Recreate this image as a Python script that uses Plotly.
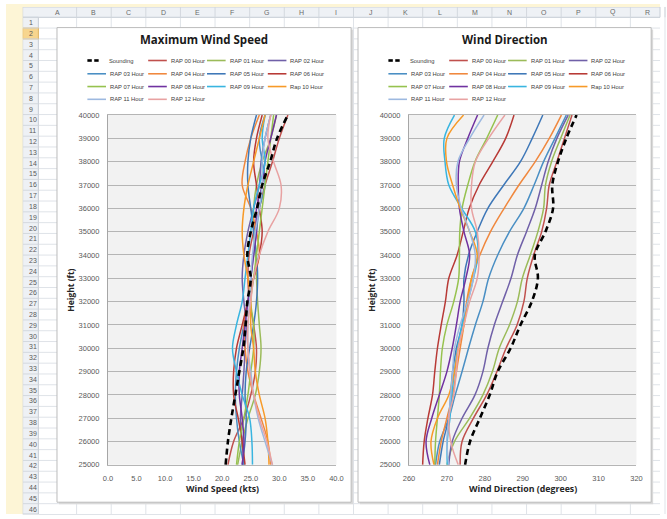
import plotly.graph_objects as go

W, H = 667, 519

heights = [25000, 26000, 27000, 28000, 29000, 30000, 31000, 32000,
           33000, 34000, 35000, 36000, 37000, 38000, 39000, 40000]

series_names = ["Sounding", "RAP 00 Hour", "RAP 01 Hour", "RAP 02 Hour",
                "RAP 03 Hour", "RAP 04 Hour", "RAP 05 Hour", "RAP 06 Hour",
                "RAP 07 Hour", "RAP 08 Hour", "RAP 09 Hour", "Rap 10 Hour",
                "RAP 11 Hour", "RAP 12 Hour"]

series_colors = ["#000000", "#C0504D", "#9BBB59", "#7060A8", "#4A8FC4",
                 "#F0883E", "#3F78B8", "#B83A36", "#96C24E", "#7032A0",
                 "#39B5E0", "#F79A28", "#9DB9E0", "#E8A2A2"]

# Wind speed (kts), one list per series, at the heights above
speed_sounding = [20.6, 21.0, 21.6, 22.3, 23.0, 23.7, 24.1, 24.4, 25.0, 24.4, 25.0, 26.1, 27.0, 28.4, 29.6, 31.5]
speed_rap00 = [21.0, 22.0, 23.8, 25.0, 25.8, 26.0, 25.5, 24.8, 24.5, 24.7, 25.5, 26.5, 27.5, 28.8, 30.0, 31.5]
speed_rap01 = [22.7, 23.5, 24.5, 25.8, 26.5, 26.8, 26.5, 26.2, 26.0, 25.8, 25.5, 25.5, 26.0, 27.0, 28.5, 29.5]
speed_rap02 = [23.8, 23.5, 23.2, 23.5, 23.8, 24.0, 24.2, 23.8, 23.5, 23.8, 24.5, 25.5, 26.5, 26.8, 27.5, 28.5]
speed_rap03 = [23.8, 23.0, 22.5, 22.3, 22.5, 23.0, 23.8, 24.5, 25.0, 25.5, 26.0, 26.5, 27.5, 27.0, 26.5, 27.5]
speed_rap04 = [28.5, 28.0, 26.8, 25.5, 24.5, 24.0, 23.8, 24.5, 25.5, 26.5, 26.0, 25.0, 23.5, 24.0, 25.0, 26.5]
speed_rap05 = [23.5, 24.0, 24.2, 24.0, 24.2, 24.8, 25.5, 26.0, 26.2, 26.0, 25.5, 25.0, 24.5, 24.5, 25.0, 26.0]
speed_rap06 = [24.0, 23.5, 22.8, 22.0, 22.0, 22.5, 23.5, 24.5, 25.5, 26.5, 27.0, 26.5, 26.0, 25.5, 26.0, 27.0]
speed_rap07 = [22.5, 23.0, 23.8, 24.5, 25.0, 25.5, 25.5, 25.0, 25.5, 26.0, 26.5, 27.0, 27.5, 28.0, 28.5, 29.0]
speed_rap08 = [23.5, 23.8, 23.5, 23.0, 23.0, 23.5, 24.0, 24.5, 25.0, 25.5, 26.0, 26.0, 27.0, 27.5, 28.5, 29.5]
speed_rap09 = [25.3, 25.2, 24.8, 23.5, 22.5, 21.8, 22.5, 23.5, 24.0, 24.5, 25.0, 25.5, 26.5, 27.5, 27.0, 27.5]
speed_rap10 = [28.2, 28.0, 27.5, 26.5, 25.8, 25.5, 25.0, 25.0, 24.5, 23.8, 23.5, 23.8, 24.5, 25.5, 26.5, 27.5]
speed_rap11 = [28.8, 27.5, 26.3, 25.5, 25.0, 24.5, 24.5, 24.8, 25.0, 25.3, 25.8, 26.5, 27.0, 27.0, 27.5, 28.5]
speed_rap12 = [28.8, 27.8, 26.5, 25.5, 24.8, 24.5, 24.5, 25.0, 25.5, 26.5, 28.0, 30.0, 30.3, 29.0, 28.0, 28.5]

# Wind direction (degrees)
dir_sounding = [274.8, 276.1, 278.7, 281.3, 283.4, 286.8, 289.4, 292.4, 294.0, 293.2, 296.0, 298.0, 297.8, 299.3, 301.5, 304.2]
dir_rap00 = [273.5, 274.0, 277.0, 280.5, 283.2, 285.6, 288.5, 290.3, 291.2, 292.9, 295.0, 296.3, 297.0, 299.0, 301.0, 303.0]
dir_rap01 = [270.0, 272.0, 276.0, 279.5, 282.0, 283.8, 286.5, 288.6, 289.9, 292.0, 294.0, 295.5, 296.0, 297.6, 300.0, 302.5]
dir_rap02 = [270.5, 271.4, 274.0, 277.4, 279.5, 280.8, 282.5, 284.7, 286.9, 288.6, 291.0, 293.3, 295.0, 296.7, 299.0, 302.0]
dir_rap03 = [267.0, 268.1, 270.5, 272.2, 274.0, 275.7, 277.5, 279.5, 281.0, 283.4, 286.5, 290.3, 293.0, 295.5, 298.5, 301.5]
dir_rap04 = [267.5, 268.5, 270.0, 271.5, 272.5, 273.5, 274.5, 275.2, 276.5, 278.7, 281.5, 285.1, 289.0, 293.3, 297.0, 300.2]
dir_rap05 = [268.0, 269.0, 270.5, 271.0, 271.5, 272.5, 274.0, 274.5, 274.5, 275.7, 278.0, 280.8, 285.0, 289.4, 292.5, 295.3]
dir_rap06 = [263.6, 264.0, 265.0, 266.2, 266.8, 267.5, 268.5, 269.6, 270.5, 272.7, 274.3, 275.9, 278.5, 282.1, 285.5, 287.7]
dir_rap07 = [266.8, 267.0, 267.5, 268.0, 268.3, 268.8, 270.0, 271.8, 273.1, 273.3, 273.4, 274.0, 275.5, 277.4, 280.5, 283.4]
dir_rap08 = [265.5, 264.5, 266.0, 268.0, 270.0, 271.4, 272.5, 273.5, 275.0, 276.0, 274.5, 273.3, 273.0, 273.3, 275.5, 278.1]
dir_rap09 = [270.1, 270.1, 270.8, 271.3, 272.0, 272.8, 274.0, 275.5, 277.0, 278.2, 277.5, 273.9, 270.5, 269.5, 269.3, 272.0]
dir_rap10 = [266.6, 265.8, 267.5, 270.5, 272.0, 273.0, 274.5, 275.5, 276.5, 278.0, 276.0, 273.5, 271.5, 269.9, 270.0, 274.4]
dir_rap11 = [270.5, 270.0, 270.5, 271.0, 271.5, 272.0, 273.5, 275.5, 277.0, 277.5, 276.0, 273.8, 272.5, 272.9, 276.0, 279.8]
dir_rap12 = [273.0, 271.0, 270.5, 271.8, 272.5, 273.0, 274.5, 276.0, 278.0, 278.5, 278.0, 276.5, 276.5, 277.5, 281.0, 285.3]

speed_series = [speed_sounding, speed_rap00, speed_rap01, speed_rap02, speed_rap03,
                speed_rap04, speed_rap05, speed_rap06, speed_rap07, speed_rap08,
                speed_rap09, speed_rap10, speed_rap11, speed_rap12]
dir_series = [dir_sounding, dir_rap00, dir_rap01, dir_rap02, dir_rap03,
              dir_rap04, dir_rap05, dir_rap06, dir_rap07, dir_rap08,
              dir_rap09, dir_rap10, dir_rap11, dir_rap12]

speed_ticks = [0, 5, 10, 15, 20, 25, 30, 35, 40]
dir_ticks = [260, 270, 280, 290, 300, 310, 320]
height_ticks = list(range(25000, 40001, 1000))

col_letters = list("ABCDEFGHIJKLMNOPQR")
n_rows = 46


def px(x):
    return x / W


def py(y):
    return 1 - y / H


fig = go.Figure()

# RAP series first, sounding drawn on top
for i in list(range(1, 14)) + [0]:
    is_snd = i == 0
    line = dict(color=series_colors[i], width=2.6 if is_snd else 1.5,
                shape="spline", smoothing=1.0)
    if is_snd:
        line["dash"] = "6px,4px"
    fig.add_trace(go.Scatter(x=speed_series[i], y=heights, mode="lines",
                             line=line, name=series_names[i], showlegend=False,
                             xaxis="x", yaxis="y"))
    fig.add_trace(go.Scatter(x=dir_series[i], y=heights, mode="lines",
                             line=line, name=series_names[i], showlegend=False,
                             xaxis="x2", yaxis="y2"))

shapes = []
annotations = []

# ---- spreadsheet backdrop ----
shapes.append(dict(type="rect", xref="paper", yref="paper", x0=0, x1=1, y0=0, y1=1,
                   fillcolor="#ffffff", line=dict(width=0), layer="below"))
row_top0 = 13.5
row_h = 11.0
col_edges = [33, 72] + [72 + 35.3 * k for k in range(1, 18)]
for k in range(n_rows + 1):
    yy = row_top0 + k * row_h
    shapes.append(dict(type="line", xref="paper", yref="paper", x0=px(33), x1=1,
                       y0=py(yy), y1=py(yy), line=dict(color="#dfe3e8", width=1),
                       layer="below"))
for xx in col_edges:
    shapes.append(dict(type="line", xref="paper", yref="paper", x0=px(xx), x1=px(xx),
                       y0=0, y1=py(3), line=dict(color="#dfe3e8", width=1), layer="below"))
shapes.append(dict(type="rect", xref="paper", yref="paper", x0=px(17), x1=1, y0=py(13.5), y1=py(3),
                   fillcolor="#eef1f5", line=dict(color="#c8ced6", width=1), layer="below"))
shapes.append(dict(type="rect", xref="paper", yref="paper", x0=px(17), x1=px(33), y0=0, y1=py(13.5),
                   fillcolor="#eef1f5", line=dict(color="#c8ced6", width=1), layer="below"))
shapes.append(dict(type="rect", xref="paper", yref="paper", x0=px(17), x1=px(33),
                   y0=py(row_top0 + 2 * row_h), y1=py(row_top0 + row_h),
                   fillcolor="#f7d58e", line=dict(color="#e2b662", width=1), layer="below"))
for k in range(1, n_rows):
    yy = row_top0 + k * row_h
    shapes.append(dict(type="line", xref="paper", yref="paper", x0=px(17), x1=px(33),
                       y0=py(yy), y1=py(yy), line=dict(color="#d3d8de", width=1), layer="below"))
for xx in col_edges[1:]:
    shapes.append(dict(type="line", xref="paper", yref="paper", x0=px(xx), x1=px(xx),
                       y0=py(13.5), y1=py(3), line=dict(color="#d3d8de", width=1), layer="below"))
shapes.append(dict(type="rect", xref="paper", yref="paper", x0=0, x1=px(17), y0=0, y1=1,
                   fillcolor="#fdf5d6", line=dict(width=0), layer="below"))
shapes.append(dict(type="rect", xref="paper", yref="paper", x0=0, x1=1, y0=py(3), y1=1,
                   fillcolor="#fdf5d6", line=dict(width=0), layer="below"))

for k, letter in enumerate(col_letters):
    cx = (col_edges[k] + col_edges[k + 1]) / 2
    annotations.append(dict(x=px(cx), y=py(8.3), xref="paper", yref="paper", text=letter,
                            showarrow=False, font=dict(size=7, color="#6b6b6b",
                                                       family="Liberation Sans"),
                            xanchor="center", yanchor="middle"))
for r in range(1, n_rows + 1):
    cy = row_top0 + (r - 0.5) * row_h
    annotations.append(dict(x=px(21), y=py(cy), xref="paper", yref="paper", text=str(r),
                            showarrow=False, font=dict(size=7, color="#5a5a5a",
                                                       family="Liberation Sans"),
                            xanchor="left", yanchor="middle"))

# ---- chart boxes ----
boxes = [(52, 352), (359, 658)]
plots = [(104, 337), (411, 643)]
box_top, box_bot = 24, 507
plot_top, plot_bot = 113, 469
for (bx0, bx1), (qx0, qx1) in zip(boxes, plots):
    shapes.append(dict(type="rect", xref="paper", yref="paper", x0=px(bx0 + 2), x1=px(bx1 + 2),
                       y0=py(box_bot + 2), y1=py(box_top + 2), fillcolor="#d9d9d9",
                       line=dict(width=0), layer="below"))
    shapes.append(dict(type="rect", xref="paper", yref="paper", x0=px(bx0), x1=px(bx1),
                       y0=py(box_bot), y1=py(box_top), fillcolor="#ffffff",
                       line=dict(color="#bcbcbc", width=1), layer="below"))
    shapes.append(dict(type="rect", xref="paper", yref="paper", x0=px(qx0), x1=px(qx1),
                       y0=py(plot_bot), y1=py(plot_top), fillcolor="#f2f2f2",
                       line=dict(width=0), layer="below"))

titles = ["Maximum Wind Speed", "Wind Direction"]
xtitles = ["Wind Speed (kts)", "Wind Direction (degrees)"]
for b, ((bx0, bx1), (qx0, qx1)) in enumerate(zip(boxes, plots)):
    annotations.append(dict(x=px((bx0 + bx1) / 2), y=py(36.5), xref="paper", yref="paper",
                            text="<b>" + titles[b] + "</b>", showarrow=False,
                            font=dict(size=11.5, color="#1a1a1a", family="Open Sans"),
                            xanchor="center", yanchor="middle"))
    annotations.append(dict(x=px((qx0 + qx1) / 2), y=py(494), xref="paper", yref="paper",
                            text="<b>" + xtitles[b] + "</b>", showarrow=False,
                            font=dict(size=8.8, color="#262626", family="Open Sans"),
                            xanchor="center", yanchor="middle"))
    annotations.append(dict(x=px(bx0 + 14), y=py(291), xref="paper", yref="paper",
                            text="<b>Height (ft)</b>", showarrow=False, textangle=-90,
                            font=dict(size=8.5, color="#262626", family="Open Sans"),
                            xanchor="center", yanchor="middle"))
    col_x = [31, 93, 153, 215]
    row_y = [57.5, 71, 84, 97]
    for i, name in enumerate(series_names):
        r, c = divmod(i, 4)
        lx = bx0 + col_x[c]
        ly = row_y[r]
        if i == 0:
            for d0 in (0, 7):
                shapes.append(dict(type="line", xref="paper", yref="paper",
                                   x0=px(lx + d0), x1=px(lx + d0 + 4.5), y0=py(ly), y1=py(ly),
                                   line=dict(color="#000000", width=2.6)))
            tx = lx + 20
        else:
            shapes.append(dict(type="line", xref="paper", yref="paper",
                               x0=px(lx), x1=px(lx + 19), y0=py(ly), y1=py(ly),
                               line=dict(color=series_colors[i], width=1.6)))
            tx = lx + 21
        annotations.append(dict(x=px(tx), y=py(ly), xref="paper", yref="paper", text=name,
                                showarrow=False, font=dict(size=5.8, color="#404040",
                                                           family="Liberation Sans"),
                                xanchor="left", yanchor="middle"))

axis_font = dict(size=7.5, color="#595959", family="Liberation Sans")
common_x = dict(showgrid=False, zeroline=False, showline=True, mirror=True,
                linecolor="#b5b5b5", linewidth=1.2, ticks="", tickfont=axis_font,
                ticklabelstandoff=6)
common_y = dict(showgrid=True, gridcolor="#b5b5b5", gridwidth=1.2, zeroline=False,
                showline=True, linecolor="#a6a6a6", linewidth=1, ticks="",
                tickfont=axis_font, range=[25000, 40000], tickvals=height_ticks,
                tickformat="d", ticklabelstandoff=6)

fig.update_layout(
    width=W, height=H, margin=dict(l=0, r=0, t=0, b=0),
    paper_bgcolor="white", plot_bgcolor="rgba(0,0,0,0)",
    showlegend=False,
    xaxis=dict(domain=[px(104), px(337)], range=[0, 40], tickvals=speed_ticks,
               tickformat=".1f", anchor="y", **common_x),
    yaxis=dict(domain=[py(plot_bot), py(plot_top)], anchor="x", **common_y),
    xaxis2=dict(domain=[px(411), px(643)], range=[260, 320], tickvals=dir_ticks,
                anchor="y2", **common_x),
    yaxis2=dict(domain=[py(plot_bot), py(plot_top)], anchor="x2", **common_y),
    shapes=shapes, annotations=annotations,
)

fig.write_html("out.html")
